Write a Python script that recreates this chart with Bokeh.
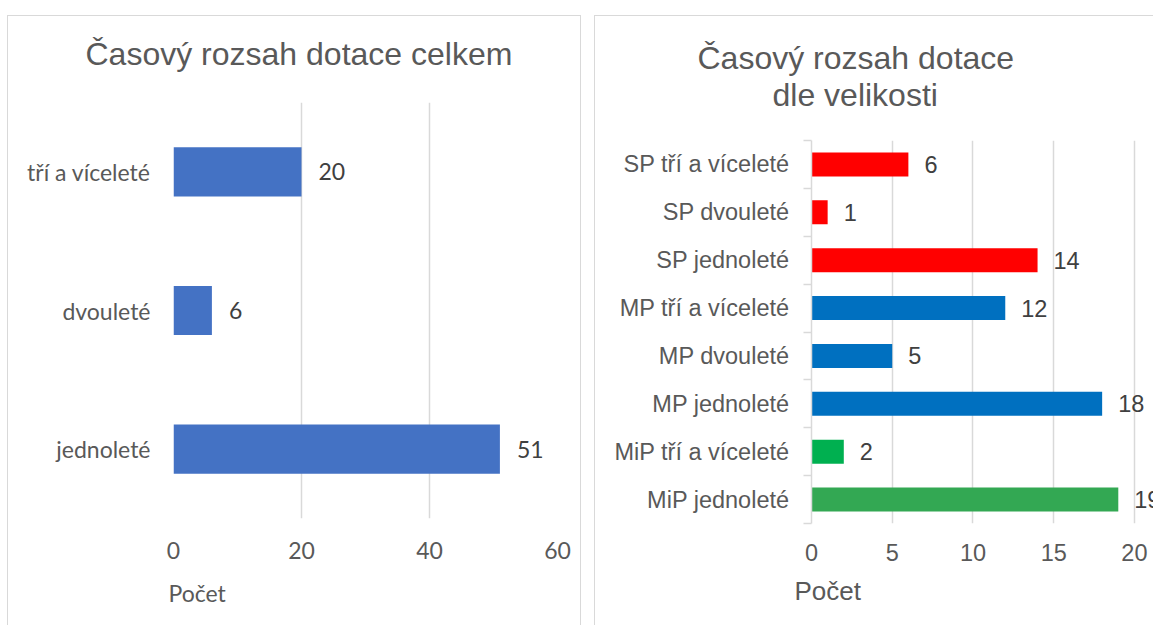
from bokeh.plotting import figure
from bokeh.models import (ColumnDataSource, FactorRange, Range1d, FixedTicker, LabelSet, Title,
                          LinearAxis)
from bokeh.layouts import row
from bokeh.core.properties import value
from bokeh.embed import file_html
from bokeh.resources import INLINE

# ---- data ----
total_categories = ["jednoleté", "dvouleté", "tří a víceleté"]
total_values = [51, 6, 20]
total_ticks = [0, 20, 40, 60]

size_categories = ["MiP jednoleté", "MiP tří a víceleté", "MP jednoleté", "MP dvouleté",
                   "MP tří a víceleté", "SP jednoleté", "SP dvouleté", "SP tří a víceleté"]
size_values = [19, 2, 18, 5, 12, 14, 1, 6]
size_ticks = [0, 5, 10, 15, 20]

title_left = "Časový rozsah dotace celkem"
title_right_lines = ["Časový rozsah dotace", "dle velikosti"]
x_label = "Počet"

# ---- styles ----
size_colors = ["#33A853", "#00B050", "#0070C0", "#0070C0", "#0070C0", "#FF0000", "#FF0000", "#FF0000"]
GRID = "#d9d9d9"
TXT = "#595959"
LBL = "#404040"
B = "1px solid #d9d9d9"

# ---- left chart ----
p1 = figure(width=574, height=610, y_range=FactorRange(factors=total_categories),
            x_range=Range1d(0, 60), output_backend="svg", toolbar_location=None,
            min_border_left=165, min_border_right=25, min_border_top=86, min_border_bottom=108,
            outline_line_color=None, margin=(15, 0, 0, 7), frame_align=False,
            styles={"border-top": B, "border-left": B, "border-right": B})
src1 = ColumnDataSource(dict(cat=total_categories, val=total_values,
                             lab=[str(v) for v in total_values]))
p1.hbar(y="cat", right="val", left=0, height=0.354, source=src1,
        fill_color="#4472C4", line_color=None)
p1.add_layout(LabelSet(x="val", y="cat", text="lab", source=src1, x_offset=17,
                       text_baseline="middle", text_font=value("Lato"),
                       text_font_size="23px", text_color=LBL))
p1.xaxis.ticker = FixedTicker(ticks=total_ticks)
p1.xaxis.axis_line_color = None
p1.xaxis.major_tick_line_color = None
p1.xaxis.minor_tick_line_color = None
p1.xaxis.major_label_standoff = 17
p1.xaxis.major_label_text_font = "Lato"
p1.xaxis.major_label_text_font_size = "23px"
p1.xaxis.major_label_text_color = TXT
p1.yaxis.axis_line_color = None
p1.yaxis.major_tick_line_color = None
p1.yaxis.minor_tick_line_color = None
p1.yaxis.major_tick_out = 0
p1.yaxis.major_label_standoff = 23
p1.yaxis.major_label_text_font = "Lato"
p1.yaxis.major_label_text_font_size = "23px"
p1.yaxis.major_label_text_color = TXT
p1.xgrid.grid_line_color = GRID
p1.xgrid.grid_line_width = 1.5
p1.ygrid.grid_line_color = None
# invisible spacer axis between frame and title (white tick on white, no labels)
spacer = LinearAxis(ticker=FixedTicker(ticks=[0]), axis_line_color=None,
                    major_tick_line_color="white", minor_tick_line_color=None,
                    major_tick_out=31, major_tick_in=0, minor_tick_out=0, minor_tick_in=0,
                    major_label_standoff=0, major_label_text_color=None,
                    major_label_text_font_size="1px")
p1.add_layout(spacer, "above")
p1.add_layout(Title(text=title_left, align="left", offset=-88, standoff=0,
                    text_font="Liberation Sans", text_font_size="32px",
                    text_font_style="normal", text_color=TXT), "above")
p1.add_layout(Title(text=x_label, align="left", offset=-5, standoff=31,
                    text_font="Lato", text_font_size="23px",
                    text_font_style="normal", text_color=TXT), "below")

# ---- right chart ----
n = len(size_categories)
ypos = [i + 0.5 for i in range(n)]
p2 = figure(width=559, height=610, x_range=Range1d(0, 20 * 342 / 322), y_range=Range1d(0, n),
            output_backend="svg", toolbar_location=None,
            min_border_left=216, min_border_right=0, min_border_top=124, min_border_bottom=103,
            outline_line_color=None, margin=(15, 0, 0, 13), frame_align=False,
            styles={"border-top": B, "border-left": B})
src2 = ColumnDataSource(dict(y=ypos, val=size_values, color=size_colors,
                             lab=[str(v) for v in size_values]))
p2.hbar(y="y", right="val", left=0, height=0.5, source=src2,
        fill_color="color", line_color=None)
p2.add_layout(LabelSet(x="val", y="y", text="lab", source=src2, x_offset=16,
                       text_baseline="middle", text_font=value("Liberation Sans"),
                       text_font_size="23.5px", text_color=LBL))
p2.xaxis.ticker = FixedTicker(ticks=size_ticks)
p2.xaxis.axis_line_color = None
p2.xaxis.major_tick_line_color = None
p2.xaxis.minor_tick_line_color = None
p2.xaxis.major_label_standoff = 14
p2.xaxis.major_label_text_font = "Liberation Sans"
p2.xaxis.major_label_text_font_size = "23.5px"
p2.xaxis.major_label_text_color = TXT
p2.yaxis.ticker = FixedTicker(ticks=ypos, minor_ticks=list(range(n + 1)))
p2.yaxis.major_label_overrides = {y: c for y, c in zip(ypos, size_categories)}
p2.yaxis.axis_line_color = GRID
p2.yaxis.axis_line_width = 1.5
p2.yaxis.major_tick_line_color = None
p2.yaxis.major_tick_out = 0
p2.yaxis.minor_tick_line_color = GRID
p2.yaxis.minor_tick_line_width = 1.5
p2.yaxis.minor_tick_out = 8
p2.yaxis.minor_tick_in = 0
p2.yaxis.major_label_standoff = 14
p2.yaxis.major_label_text_font = "Liberation Sans"
p2.yaxis.major_label_text_font_size = "23.5px"
p2.yaxis.major_label_text_color = TXT
p2.xgrid.grid_line_color = GRID
p2.xgrid.grid_line_width = 1.5
p2.ygrid.grid_line_color = None
p2.add_layout(Title(text=title_right_lines[1], align="left", offset=-39, standoff=55,
                    text_font="Liberation Sans", text_font_size="32px",
                    text_font_style="normal", text_color=TXT), "above")
p2.add_layout(Title(text=title_right_lines[0], align="left", offset=-114, standoff=-57,
                    text_font="Liberation Sans", text_font_size="32px",
                    text_font_style="normal", text_color=TXT), "above")
p2.add_layout(Title(text=x_label, align="left", offset=-17, standoff=21,
                    text_font="Liberation Sans", text_font_size="26px",
                    text_font_style="normal", text_color=TXT), "below")

layout = row(p1, p2)
open("out.html", "w").write(file_html(layout, INLINE))
